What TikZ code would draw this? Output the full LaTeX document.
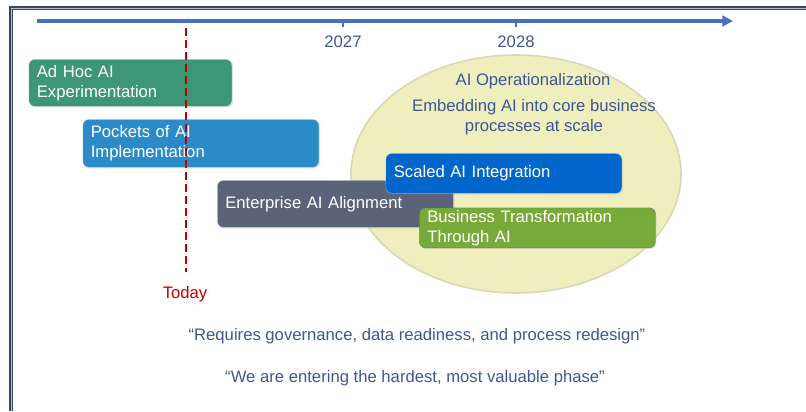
\documentclass[tikz,border=0pt]{standalone}
\usepackage{fontspec}
\setmainfont{Liberation Sans}
\usetikzlibrary{shapes.geometric,arrows.meta,shadows}
\definecolor{axisblue}{HTML}{4A6FBF}
\definecolor{textblue}{HTML}{3F5597}
\definecolor{adhocgreen}{HTML}{3D9677}
\definecolor{pocketblue}{HTML}{2B8BC9}
\definecolor{slategrey}{HTML}{5B6379}
\definecolor{scaledblue}{HTML}{0066CC}
\definecolor{bizgreen}{HTML}{78AA3A}
\definecolor{ellfill}{HTML}{EFEFBE}
\definecolor{elldraw}{HTML}{D8D8B8}
\definecolor{todayred}{HTML}{C00000}
\definecolor{framedark}{HTML}{3B4560}
\definecolor{framelight}{HTML}{B4BCCC}
\tikzset{
  base/.style={font=\fontsize{12.5}{15}\selectfont},
  phasebox/.style={base, rounded corners=4.5pt, anchor=north west, text=white,
    align=left, inner xsep=6pt, inner ysep=0pt, draw=white, draw opacity=0.35, line width=0.5pt,
    drop shadow={shadow xshift=0.8pt, shadow yshift=-0.8pt, opacity=0.25}},
  lbl/.style={base, text=textblue, inner sep=0pt, yshift=-1pt},
}
\begin{document}
\begin{tikzpicture}[x=0.75pt,y=-0.75pt]
\useasboundingbox (0,0) rectangle (806,411);
% frame
\coordinate (fb) at (11,411);
\coordinate (fc) at (11,8.3);
\coordinate (fr) at (806,8.3);
\draw[framedark, line width=3pt] (fb) -- (fc) -- (fr);
\draw[framelight, line width=0.7pt] (fb) -- (fc) -- (fr);
% timeline
\coordinate (ax0) at (37,21);
\coordinate (ax1) at (733,21);
\draw[axisblue, line width=2.3pt, -{Triangle[length=8pt,width=8pt]}] (ax0) -- (ax1);
\coordinate (tk27) at (343,21);
\coordinate (tk27b) at (343,27);
\coordinate (tk28) at (516,21);
\coordinate (tk28b) at (516,27);
\draw[axisblue, line width=0.8pt] (tk27) -- (tk27b);
\draw[axisblue, line width=0.8pt] (tk28) -- (tk28b);
\node[lbl] (y27) at (343,40) {2027};
\node[lbl] (y28) at (516,40) {2028};
% ellipse
\node[ellipse, fill=ellfill, draw=elldraw, line width=1.2pt, minimum width=247.5pt, minimum height=178.5pt, inner sep=0pt] (opz) at (516,174) {};
\node[lbl] (opzt) at (533,80) {AI Operationalization};
\node[lbl, align=center] (opzd) at (534,116) {Embedding AI into core business\\processes at scale};
% early boxes
\node[phasebox, fill=adhocgreen, minimum width=152.25pt, minimum height=35.25pt, text width=140.25pt] (adhoc) at (28.5,59) {\raisebox{-1pt}{Ad Hoc AI}\\\raisebox{-1pt}{Experimentation}};
\node[phasebox, fill=pocketblue, minimum width=177pt, minimum height=36pt, text width=165pt] (pockets) at (82.5,119) {\raisebox{-1pt}{Pockets of AI}\\\raisebox{-1pt}{Implementation}};
% today line
\coordinate (td0) at (186,28);
\coordinate (td1) at (186,272);
\draw[todayred, line width=1.6pt, dash pattern=on 6pt off 3pt] (td0) -- (td1);
\node[base, text=todayred, inner sep=0pt, yshift=-1pt] (today) at (185,293) {Today};
% later boxes
\node[phasebox, fill=slategrey, minimum width=177pt, minimum height=35.25pt, text width=165pt] (ent) at (217,180) {\raisebox{-1pt}{Enterprise AI Alignment}};
\node[phasebox, fill=scaledblue, minimum width=177pt, minimum height=30pt, text width=165pt] (scaled) at (385.5,153) {\raisebox{-1pt}{Scaled AI Integration}};
\node[phasebox, fill=bizgreen, minimum width=177pt, minimum height=30pt, text width=165pt, draw=slategrey, draw opacity=0.5] (biz) at (419,207.5) {\raisebox{-1pt}{Business Transformation}\\\raisebox{-1pt}{Through AI}};
% quotes
\node[lbl] (q1) at (417,335) {“Requires governance, data readiness, and process redesign”};
\node[lbl] (q2) at (415,377) {“We are entering the hardest, most valuable phase”};
\end{tikzpicture}
\end{document}
